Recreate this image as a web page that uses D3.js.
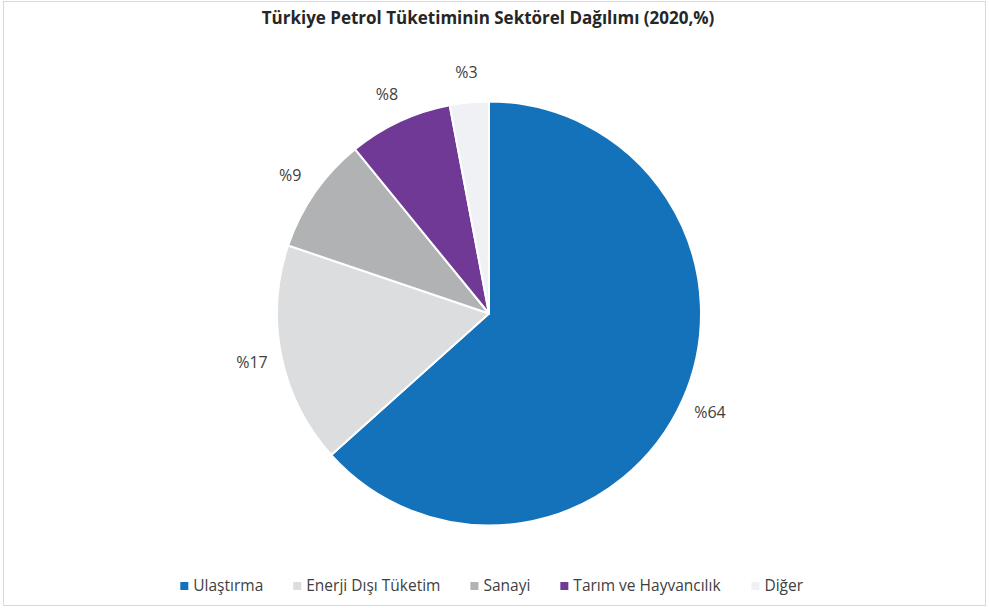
<!DOCTYPE html>
<html>
<head>
<meta charset="utf-8">
<script src="https://cdn.jsdelivr.net/npm/d3@7/dist/d3.min.js"></script>
<style>
  body { margin: 0; background: #fff; }
  svg { display: block; font-family: "Open Sans", Lato, sans-serif; }
</style>
</head>
<body>
<svg id="chart" width="989" height="608"></svg>
<script>
// Sectoral shares of petroleum consumption, Türkiye 2020 (%)
const sectors = ["Ulaştırma", "Enerji Dışı Tüketim", "Sanayi", "Tarım ve Hayvancılık", "Diğer"];
const shares = [64, 17, 9, 8, 3];
const colors = ["#1372ba", "#dcdddf", "#b1b2b4", "#6f3995", "#f0f1f4"];
const title = "Türkiye Petrol Tüketiminin Sektörel Dağılımı (2020,%)";

const svg = d3.select("#chart");
const W = 989, H = 608;

// outer frame
svg.append("rect")
  .attr("x", 3.5).attr("y", 1.5).attr("width", W - 7).attr("height", H - 4)
  .attr("fill", "#fff").attr("stroke", "#d9d9d9").attr("stroke-width", 1);

svg.append("text")
  .attr("x", 488).attr("y", 24)
  .attr("text-anchor", "middle")
  .attr("font-size", 17).attr("font-weight", "bold").attr("fill", "#262626")
  .text(title);

const cx = 489, cy = 313.5, R = 212;
const data = sectors.map((s, i) => ({ name: s, value: shares[i], color: colors[i] }));

const pie = d3.pie().value(d => d.value).sort(null);
const arcs = pie(data);
const arc = d3.arc().innerRadius(0).outerRadius(R);
const labelArc = d3.arc().innerRadius(R + 30).outerRadius(R + 30);

const g = svg.append("g").attr("transform", `translate(${cx},${cy})`);

g.selectAll("path.slice")
  .data(arcs)
  .join("path")
  .attr("class", "slice")
  .attr("d", arc)
  .attr("fill", d => d.data.color)
  .attr("stroke", "#fff")
  .attr("stroke-width", 2)
  .attr("stroke-linejoin", "round");

g.selectAll("text.lbl")
  .data(arcs)
  .join("text")
  .attr("class", "lbl")
  .attr("transform", d => `translate(${labelArc.centroid(d)})`)
  .attr("text-anchor", "middle")
  .attr("dy", "0.35em")
  .attr("font-size", 16).attr("fill", "#404040")
  .text(d => "%" + d.data.value);

// legend along the bottom
const legend = svg.append("g").attr("transform", "translate(0,586)");
const items = legend.selectAll("g.item").data(data).join("g").attr("class", "item");
items.append("rect")
  .attr("y", -4).attr("width", 8).attr("height", 8)
  .attr("fill", d => d.color);
items.append("text")
  .attr("x", 13).attr("dy", "0.35em")
  .attr("font-size", 15.5).attr("fill", "#404040")
  .text(d => d.name);

// lay legend items out in a centred row
const gap = 30;
const widths = [];
items.each(function() { widths.push(this.getBBox().width); });
const total = d3.sum(widths) + gap * (widths.length - 1);
let x = 492 - total / 2;
items.attr("transform", (d, i) => {
  const t = `translate(${x},0)`;
  x += widths[i] + gap;
  return t;
});
</script>
</body>
</html>
